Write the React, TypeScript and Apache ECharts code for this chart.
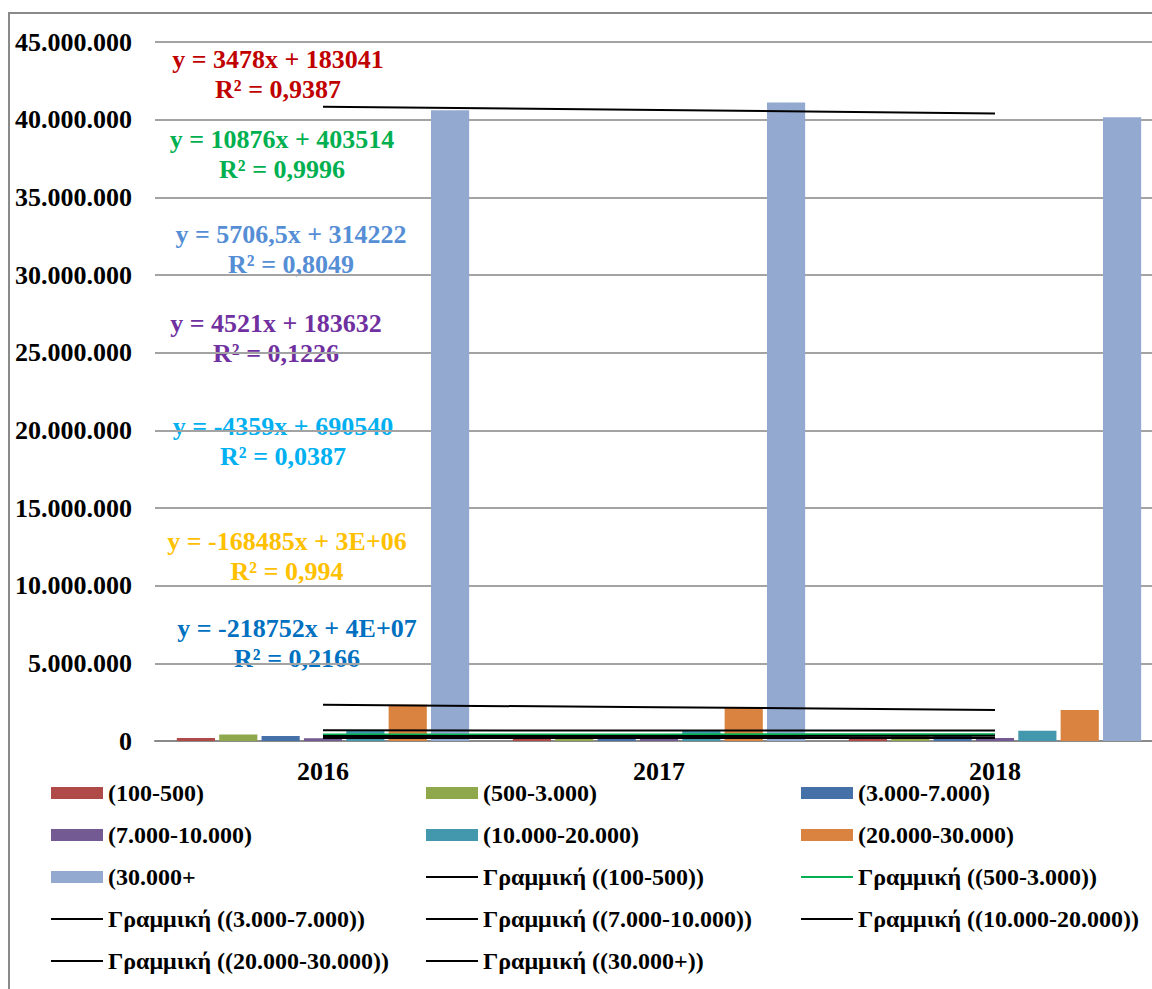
import React, { useEffect, useRef } from "react";
import * as echarts from "echarts";

// Years on the category axis
const years = ["2016", "2017", "2018"];

// Bar series names (as labelled in the legend)
const barNames = [
  "(100-500)",
  "(500-3.000)",
  "(3.000-7.000)",
  "(7.000-10.000)",
  "(10.000-20.000)",
  "(20.000-30.000)",
  "(30.000+",
];

// Values per size class, 2016-2018
const v100_500 = [186006, 191023, 192962];
const v500_3000 = [414264, 425518, 436016];
const v3000_7000 = [318306, 328880, 329719];
const v7000_10000 = [181170, 206640, 190212];
const v10000_20000 = [673638, 706908, 664920];
const v20000_30000 = [2330928, 2185114, 1993958];
const v30000plus = [40598567, 41100370, 40161063];

const barValues = [
  v100_500,
  v500_3000,
  v3000_7000,
  v7000_10000,
  v10000_20000,
  v20000_30000,
  v30000plus,
];

// Linear trendline names
const trendNames = [
  "Γραμμική ((100-500))",
  "Γραμμική ((500-3.000))",
  "Γραμμική ((3.000-7.000))",
  "Γραμμική ((7.000-10.000))",
  "Γραμμική ((10.000-20.000))",
  "Γραμμική ((20.000-30.000))",
  "Γραμμική ((30.000+))",
];

// Trendline equation texts
const trendEquations = [
  "y = 3478x + 183041",
  "y = 10876x + 403514",
  "y = 5706,5x + 314222",
  "y = 4521x + 183632",
  "y = -4359x + 690540",
  "y = -168485x + 3E+06",
  "y = -218752x + 4E+07",
];
const trendR2 = [
  "R² = 0,9387",
  "R² = 0,9996",
  "R² = 0,8049",
  "R² = 0,1226",
  "R² = 0,0387",
  "R² = 0,994",
  "R² = 0,2166",
];

// Y axis range
const yMin = 0;
const yMax = 45000000;
const yStep = 5000000;

const barColors = ["#AF4A48", "#8FA84C", "#4670A8", "#735A92", "#4398AE", "#DA8240", "#94A9D0"];
const trendColors = ["#000000", "#00B050", "#000000", "#000000", "#000000", "#000000", "#000000"];
const eqColors = ["#C00000", "#00B050", "#558ED5", "#7030A0", "#00B0F0", "#FFC000", "#0070C0"];
// label block placement: centre x, y of the equation line
const eqPos: [number, number][] = [
  [278, 59],
  [282, 139],
  [291, 234],
  [276, 323],
  [283, 426],
  [287, 541],
  [297, 628],
];

const FONT = '"Liberation Serif", "Times New Roman", serif';

// least-squares straight line over x = 1..n, evaluated at each x
function linearFit(ys: number[]): number[] {
  const n = ys.length;
  const xs = ys.map((_, i) => i + 1);
  const mx = xs.reduce((a, b) => a + b, 0) / n;
  const my = ys.reduce((a, b) => a + b, 0) / n;
  let sxy = 0;
  let sxx = 0;
  for (let i = 0; i < n; i++) {
    sxy += (xs[i] - mx) * (ys[i] - my);
    sxx += (xs[i] - mx) * (xs[i] - mx);
  }
  const slope = sxy / sxx;
  const icpt = my - slope * mx;
  return xs.map((x) => icpt + slope * x);
}

function dotted(n: number): string {
  return String(Math.round(n)).replace(/\B(?=(\d{3})+(?!\d))/g, ".");
}

export default function App() {
  const ref = useRef<HTMLDivElement>(null);

  useEffect(() => {
    if (!ref.current) return;
    const chart = echarts.init(ref.current, undefined, { renderer: "svg" });

    const legendText = {
      fontFamily: FONT,
      fontWeight: "bold" as const,
      fontSize: 24,
      lineHeight: 24,
      color: "#000",
    };
    const mkLegend = (left: number, top: number, data: string[], itemHeight: number) => ({
      orient: "vertical" as const,
      left,
      top,
      data,
      icon: "rect",
      itemWidth: 52,
      itemHeight,
      itemGap: 18,
      selectedMode: false,
      textStyle: legendText,
    });

    const barSeries = barNames.map((name, i) => ({
      name,
      type: "bar",
      data: barValues[i],
      barCategoryGap: "13%",
      barGap: "11%",
      itemStyle: { color: barColors[i] },
      z: 2,
    }));

    const lineSeries = trendNames.map((name, i) => ({
      name,
      type: "line",
      data: linearFit(barValues[i]),
      symbol: "none",
      color: trendColors[i],
      itemStyle: { color: trendColors[i] },
      lineStyle: { color: trendColors[i], width: 2 },
      z: 3,
    }));

    const graphics: any[] = [
      {
        type: "rect",
        shape: { x: 9, y: 13, width: 1300, height: 1100 },
        style: { fill: "none", stroke: "#8a8a8a", lineWidth: 2 },
        silent: true,
        z: -2,
      },
    ];
    trendEquations.forEach((eq, i) => {
      const [cx, cy] = eqPos[i];
      [eq, trendR2[i]].forEach((t, k) => {
        graphics.push({
          type: "text",
          x: cx,
          y: cy + k * 30,
          z: -1,
          silent: true,
          style: {
            text: t,
            fill: eqColors[i],
            font: `bold 26px ${FONT}`,
            align: "center",
            verticalAlign: "middle",
            textAlign: "center",
            textVerticalAlign: "middle",
          },
        });
      });
    });

    chart.setOption({
      animation: false,
      backgroundColor: "#ffffff",
      // plot area runs past the right edge of the page
      grid: {
        left: 155,
        width: 1008,
        top: 42,
        bottom: 248,
        containLabel: false,
        outerBoundsMode: "none",
      },
      xAxis: {
        type: "category",
        data: years,
        axisLine: { show: true, lineStyle: { color: "#8a8a8a", width: 2 } },
        axisTick: { show: false },
        axisLabel: {
          interval: 0,
          margin: 17,
          fontFamily: FONT,
          fontWeight: "bold",
          fontSize: 26,
          color: "#000",
        },
      },
      yAxis: {
        type: "value",
        min: yMin,
        max: yMax,
        interval: yStep,
        axisLine: { show: false },
        axisTick: { show: false },
        splitLine: { lineStyle: { color: "#a3a3a3", width: 2 } },
        axisLabel: {
          margin: 23,
          fontFamily: FONT,
          fontWeight: "bold",
          fontSize: 26,
          color: "#000",
          formatter: (v: number) => dotted(v),
        },
      },
      legend: [
        mkLegend(46, 776, ["(100-500)", "(7.000-10.000)", "(30.000+"], 12),
        mkLegend(46, 902, ["Γραμμική ((3.000-7.000))", "Γραμμική ((20.000-30.000))"], 2),
        mkLegend(421, 776, ["(500-3.000)", "(10.000-20.000)"], 12),
        mkLegend(
          421,
          860,
          ["Γραμμική ((100-500))", "Γραμμική ((7.000-10.000))", "Γραμμική ((30.000+))"],
          2
        ),
        mkLegend(796, 776, ["(3.000-7.000)", "(20.000-30.000)"], 12),
        mkLegend(796, 860, ["Γραμμική ((500-3.000))", "Γραμμική ((10.000-20.000))"], 2),
      ],
      tooltip: { show: false },
      graphic: graphics,
      series: [...barSeries, ...lineSeries],
    });

    return () => {
      chart.dispose();
    };
  }, []);

  return (
    <div
      ref={ref}
      style={{ position: "absolute", left: 0, top: 0, width: 1152, height: 989 }}
    />
  );
}
